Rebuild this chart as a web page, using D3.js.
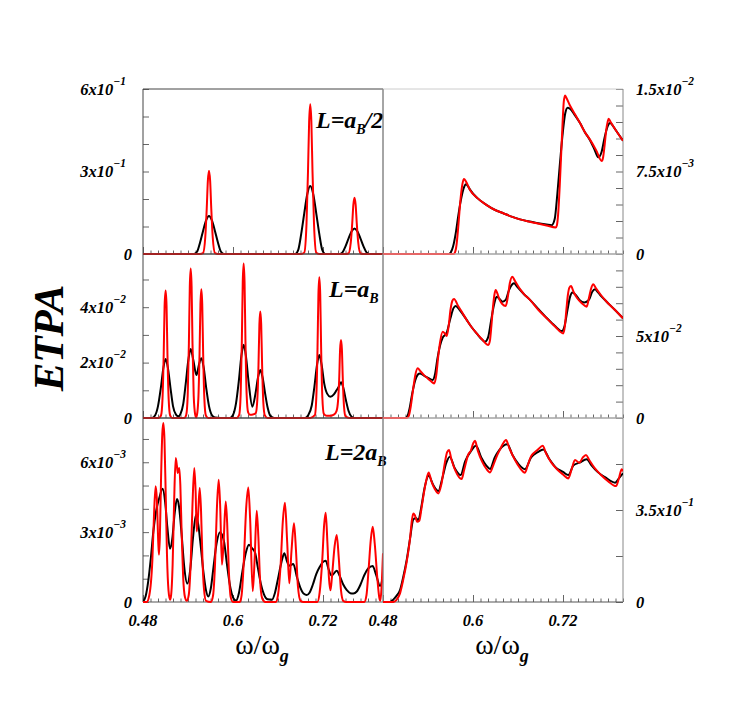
<!DOCTYPE html>
<html>
<head>
<meta charset="utf-8">
<script src="https://cdn.jsdelivr.net/npm/d3@7"></script>
<style>
body { margin: 0; background: #fff; }
text { font-family: "Liberation Serif", "Times New Roman", serif; }
</style>
</head>
<body>
<div id="vis"></div>
<script>
// x axis (omega / omega_g)
var xDomain = [0.48, 0.80];
var xMajor = [0.48, 0.6, 0.72];
var xMajorLabels = ["0.48", "0.6", "0.72"];

// top left, L = aB/2, values in 1e-1
var tlRed = [[0.480,0],[0.556,0],[0.560,0.03],[0.563,0.6],[0.565,1.67],[0.5665,2.67],[0.568,3.03],[0.5695,2.67],[0.571,1.67],[0.573,0.6],[0.576,0.03],[0.580,0],
  [0.691,0],[0.695,0.05],[0.698,1.1],[0.700,3.0],[0.7015,4.8],[0.703,5.45],[0.7045,4.8],[0.706,3.0],[0.708,1.1],[0.711,0.05],[0.715,0],
  [0.750,0],[0.754,0.02],[0.757,0.41],[0.759,1.13],[0.7605,1.8],[0.762,2.05],[0.7635,1.8],[0.765,1.13],[0.767,0.41],[0.770,0.02],[0.774,0],[0.800,0]];
var tlBlack = [[0.480,0],[0.548,0],[0.552,0.08],[0.556,0.41],[0.560,0.83],[0.564,1.21],[0.568,1.38],[0.572,1.21],[0.576,0.83],[0.580,0.41],[0.584,0.08],[0.588,0],
  [0.683,0],[0.687,0.15],[0.691,0.74],[0.695,1.48],[0.699,2.17],[0.703,2.47],[0.707,2.17],[0.711,1.48],[0.715,0.74],[0.719,0.15],[0.723,0],
  [0.742,0],[0.746,0.06],[0.750,0.28],[0.754,0.56],[0.758,0.82],[0.762,0.93],[0.766,0.82],[0.770,0.56],[0.774,0.28],[0.778,0.06],[0.782,0],[0.800,0]];

// middle left, L = aB, values in 1e-2
var mlRed = [[0.480,0],[0.501,0],[0.504,0.09],[0.506,0.69],[0.5076,2.3],[0.5088,4.05],[0.5102,4.6],[0.5114,4.05],[0.5126,2.3],[0.5142,0.69],[0.5162,0.09],[0.519,0],
  [0.535,0],[0.5376,0.11],[0.5396,0.81],[0.5412,2.7],[0.5424,4.75],[0.5436,5.4],[0.5448,4.75],[0.546,2.7],[0.5476,0.81],[0.5496,0.11],[0.5507,0.02],
  [0.5518,0.09],[0.5538,0.7],[0.5554,2.33],[0.5566,4.1],[0.5578,4.65],[0.559,4.1],[0.5602,2.33],[0.5618,0.7],[0.5638,0.09],[0.567,0],
  [0.605,0],[0.6082,0.11],[0.6102,0.84],[0.6118,2.79],[0.613,4.91],[0.6142,5.58],[0.6154,4.91],[0.6166,2.79],[0.6182,0.84],[0.6202,0.2],[0.6225,0.12],[0.625,0.12],[0.628,0.14],[0.6304,0.18],[0.6324,0.65],[0.634,1.92],[0.6352,3.38],[0.6364,3.84],[0.6376,3.38],[0.6388,1.92],[0.6404,0.58],[0.6424,0.1],[0.646,0],
  [0.703,0],[0.7091,0.1],[0.7111,0.76],[0.7127,2.54],[0.7139,4.47],[0.7151,5.08],[0.7163,4.47],[0.7175,2.54],[0.7191,0.76],[0.7211,0.15],[0.725,0.08],[0.7295,0.08],[0.7345,0.12],[0.738,0.25],[0.740,0.6],[0.7416,1.41],[0.7428,2.48],[0.744,2.82],[0.7452,2.48],[0.7464,1.41],[0.748,0.42],[0.750,0.06],[0.755,0],[0.800,0]];
var mlBlack = [[0.480,0],[0.492,0],[0.496,0.09],[0.500,0.43],[0.5037,1.07],[0.5072,1.81],[0.5102,2.13],[0.5132,1.81],[0.5167,1.07],[0.520,0.43],[0.524,0.12],[0.527,0.06],[0.530,0.15],[0.5336,0.5],[0.537,1.25],[0.5406,2.12],[0.5436,2.49],[0.547,2.1],[0.5513,1.55],[0.5548,1.95],[0.5578,2.16],[0.5608,1.84],[0.5643,1.08],[0.568,0.43],[0.572,0.1],[0.576,0.02],[0.590,0],
  [0.596,0],[0.600,0.11],[0.604,0.53],[0.6077,1.32],[0.6112,2.24],[0.6142,2.64],[0.6172,2.24],[0.621,1.25],[0.6258,0.41],[0.6299,0.87],[0.6334,1.47],[0.6364,1.73],[0.6394,1.47],[0.6429,0.87],[0.6464,0.35],[0.650,0.07],[0.655,0],
  [0.696,0],[0.700,0.09],[0.705,0.45],[0.7086,1.14],[0.7121,1.93],[0.7151,2.27],[0.7181,1.93],[0.7216,1.25],[0.7255,0.88],[0.7298,0.77],[0.7345,0.85],[0.738,1.0],[0.741,1.13],[0.744,1.29],[0.747,1.1],[0.7505,0.65],[0.754,0.26],[0.758,0.05],[0.762,0],[0.800,0]];

// bottom left, L = 2aB, values in 1e-3
var blRed = [[0.480,0],[0.4849,0],[0.4885,0.3],[0.4925,1.8],[0.495,4.0],[0.4969,4.97],[0.4985,4.4],[0.5003,2.6],[0.5013,2.03],[0.5025,2.8],[0.504,5.2],[0.5057,7.2],[0.5071,7.68],[0.5086,7.0],[0.5103,4.6],[0.512,2.0],[0.514,0.5],[0.516,0.1],
  [0.5175,0.3],[0.5195,1.6],[0.5215,4.3],[0.5236,6.18],[0.5252,5.85],[0.5263,5.54],[0.5275,5.7],[0.5284,5.75],[0.5298,5.0],[0.5315,3.0],[0.5335,1.1],[0.536,0.2],[0.5383,0.05],
  [0.541,0.3],[0.5435,1.6],[0.546,4.2],[0.5484,5.75],[0.5502,4.7],[0.5516,3.03],[0.5532,3.6],[0.5556,4.89],[0.5573,4.0],[0.5592,1.9],[0.5612,0.6],[0.564,0.05],[0.5705,0],
  [0.5735,0.3],[0.576,1.6],[0.5785,4.0],[0.5809,5.25],[0.5828,4.2],[0.5853,1.6],[0.5875,2.6],[0.5903,4.32],[0.5922,3.4],[0.5945,1.3],[0.597,0.2],[0.600,0],[0.609,0],
  [0.6115,0.3],[0.6145,1.8],[0.6175,4.0],[0.6204,4.92],[0.6228,3.6],[0.6263,0.46],[0.6288,1.8],[0.6316,3.92],[0.6338,2.8],[0.636,1.0],[0.639,0.15],[0.643,0],[0.657,0],
  [0.660,0.3],[0.6635,1.6],[0.6665,3.5],[0.6693,4.26],[0.6722,2.6],[0.6751,0.8],[0.678,2.2],[0.6813,3.38],[0.684,2.2],[0.6865,0.7],[0.690,0.05],[0.694,0],[0.7125,0],
  [0.7155,0.4],[0.719,1.8],[0.7215,3.3],[0.7236,3.83],[0.7258,2.6],[0.728,1.0],[0.7300,0.5],[0.732,1.1],[0.7355,2.4],[0.7383,2.88],[0.741,1.9],[0.744,0.5],[0.747,0.05],[0.751,0],[0.775,0],
  [0.778,0.3],[0.7808,1.4],[0.7838,2.7],[0.7863,3.23],[0.789,2.5],[0.7925,1.0],[0.795,0.2],[0.7965,0.05],[0.798,0.6],[0.800,2.09]];
var blBlack = [[0.480,0.02],[0.4835,0.25],[0.487,0.9],[0.4905,1.9],[0.4938,3.03],[0.4975,3.9],[0.502,4.5],[0.5062,4.86],[0.5095,4.3],[0.5125,3.2],[0.516,2.29],[0.519,2.7],[0.5222,3.8],[0.5253,4.42],[0.528,4.1],[0.5315,2.9],[0.535,1.5],[0.5391,0.79],
  [0.543,1.4],[0.5465,2.7],[0.5507,3.75],[0.5537,3.32],[0.557,2.4],[0.5605,1.3],[0.564,0.5],[0.5671,0.24],[0.5705,0.6],[0.574,1.5],[0.578,2.5],[0.5827,3.0],[0.588,2.6],[0.592,1.6],[0.596,0.7],[0.600,0.2],[0.604,0.06],
  [0.608,0.4],[0.6125,1.3],[0.617,2.1],[0.6213,2.46],[0.6255,2.3],[0.6293,2.13],[0.633,1.5],[0.637,0.8],[0.641,0.35],[0.646,0.12],[0.652,0.1],[0.656,0.4],[0.660,1.0],[0.6645,1.7],[0.6684,2.09],[0.6725,1.7],[0.6751,1.56],[0.6804,1.63],[0.685,1.1],[0.690,0.6],[0.6945,0.35],[0.6983,0.3],
  [0.702,0.4],[0.7065,0.75],[0.711,1.2],[0.7155,1.5],[0.7195,1.7],[0.7236,1.77],[0.7275,1.4],[0.7313,1.13],[0.7383,1.34],[0.7425,1.1],[0.747,0.75],[0.752,0.5],[0.7564,0.38],[0.7604,0.37],[0.765,0.45],[0.770,0.75],[0.775,1.15],[0.7805,1.45],[0.7862,1.55],[0.7905,1.2],[0.796,0.69],[0.800,1.1]];

// top right, values in 1e-3
var trRed = [[0.480,0],[0.574,0],[0.576,0.15],[0.578,0.8],[0.580,2.2],[0.582,3.9],[0.584,5.4],[0.586,6.4],[0.588,6.82],[0.5905,6.6],[0.596,5.82],[0.6055,5.1],[0.6183,4.45],[0.6295,4.0],[0.6404,3.7],[0.6515,3.4],[0.6627,3.15],[0.6738,2.95],[0.6849,2.79],[0.698,2.6],[0.7103,2.42],
  [0.7118,2.6],[0.7135,3.6],[0.7155,6.0],[0.7175,9.0],[0.7195,12.0],[0.721,13.8],[0.7227,14.4],[0.7245,14.2],[0.7293,13.5],[0.736,12.7],[0.7427,11.9],[0.749,11.1],[0.756,10.4],[0.7645,9.4],[0.7716,8.45],
  [0.7735,8.8],[0.7755,9.9],[0.7775,11.2],[0.7795,12.0],[0.7809,12.3],[0.7835,12.0],[0.790,11.3],[0.800,10.3]];
var trBlack = [[0.480,0],[0.568,0],[0.5705,0.15],[0.5735,0.7],[0.577,1.9],[0.580,3.3],[0.583,4.6],[0.586,5.6],[0.5885,6.15],[0.5903,6.33],[0.593,6.2],[0.596,5.85],[0.6055,5.1],[0.6183,4.45],[0.6295,4.0],[0.6404,3.7],[0.6515,3.4],[0.6627,3.15],[0.6738,2.97],[0.6849,2.82],[0.698,2.68],[0.7049,2.62],
  [0.709,3.2],[0.7125,5.5],[0.716,8.3],[0.7195,10.9],[0.723,12.8],[0.7262,13.3],[0.7293,13.2],[0.736,12.6],[0.7427,11.9],[0.749,11.1],[0.756,10.35],[0.762,9.5],[0.767,8.79],
  [0.7715,9.3],[0.7755,10.6],[0.7795,11.6],[0.7827,11.9],[0.786,11.7],[0.790,11.3],[0.800,10.3]];

// middle right, values in 1e-2
var mrRed = [[0.480,0],[0.512,0],[0.5145,0.15],[0.517,0.7],[0.520,1.7],[0.523,2.6],[0.5262,3.03],[0.530,2.85],[0.535,2.6],[0.540,2.4],[0.545,2.2],[0.5484,2.11],[0.551,2.6],[0.5535,3.7],[0.556,4.6],[0.5596,5.26],[0.5625,5.15],[0.5649,5.0],[0.5675,5.6],[0.570,6.6],[0.5725,7.15],[0.5747,7.26],
  [0.580,6.85],[0.586,6.4],[0.5916,5.98],[0.598,5.55],[0.6049,5.16],[0.612,4.8],[0.6204,4.45],[0.6225,4.7],[0.6245,5.6],[0.6265,6.7],[0.6285,7.5],[0.6302,7.8],[0.632,7.65],[0.6355,7.2],[0.639,6.95],[0.6436,6.83],[0.6465,7.4],[0.649,8.2],[0.6524,8.62],
  [0.656,8.35],[0.662,7.9],[0.668,7.55],[0.676,7.2],[0.687,6.6],[0.6983,6.08],[0.709,5.6],[0.7204,5.16],[0.7225,5.6],[0.7245,6.6],[0.7265,7.5],[0.7285,7.95],[0.7307,8.05],[0.734,7.7],[0.739,7.3],[0.745,7.0],[0.7516,6.79],[0.7545,7.3],[0.7575,7.9],[0.7604,8.15],
  [0.764,7.9],[0.7705,7.5],[0.7782,7.09],[0.789,6.6],[0.800,6.08]];
var mrBlack = [[0.480,0],[0.510,0],[0.5125,0.1],[0.5155,0.6],[0.519,1.5],[0.523,2.3],[0.5265,2.65],[0.5293,2.72],[0.534,2.6],[0.540,2.45],[0.5462,2.32],[0.5495,2.7],[0.5525,3.6],[0.556,4.4],[0.5596,4.9],[0.5649,5.2],[0.570,6.1],[0.574,6.7],[0.5769,6.83],
  [0.582,6.6],[0.5916,5.98],[0.598,5.55],[0.6049,5.16],[0.612,4.78],[0.616,4.65],[0.620,4.9],[0.624,5.9],[0.628,6.9],[0.6316,7.4],[0.6355,7.25],[0.6395,7.09],[0.6436,7.2],[0.648,7.8],[0.6524,8.15],[0.6547,8.21],
  [0.659,8.0],[0.668,7.55],[0.676,7.2],[0.687,6.65],[0.6983,6.1],[0.709,5.62],[0.7182,5.3],[0.722,5.6],[0.726,6.6],[0.7295,7.4],[0.7324,7.66],[0.737,7.5],[0.742,7.2],[0.7485,7.05],[0.7545,7.2],[0.759,7.7],[0.7627,7.85],
  [0.766,7.7],[0.7705,7.45],[0.7782,7.09],[0.789,6.6],[0.800,6.08]];

// bottom right, values in 1e-1
var brRed = [[0.480,0],[0.494,0],[0.498,0.08],[0.5027,0.33],[0.507,0.85],[0.5116,1.53],[0.516,2.4],[0.5185,3.1],[0.5204,3.37],[0.5225,3.3],[0.5255,3.05],[0.5284,3.09],[0.531,3.5],[0.5337,4.0],[0.5375,4.6],[0.5409,4.93],[0.5445,4.6],[0.549,4.3],[0.5538,4.13],
  [0.558,4.5],[0.5625,5.3],[0.5655,5.7],[0.568,5.78],[0.571,5.45],[0.5765,5.0],[0.5849,4.68],[0.588,5.0],[0.5938,5.62],[0.597,5.75],[0.6005,6.05],[0.6027,6.13],[0.6065,5.75],[0.612,5.35],[0.6175,5.08],[0.6227,4.93],
  [0.627,5.2],[0.6325,5.6],[0.6351,5.75],[0.6395,6.0],[0.644,6.16],[0.6485,5.85],[0.656,5.4],[0.6625,5.1],[0.6693,4.92],[0.673,5.2],[0.6775,5.55],[0.6804,5.65],[0.6865,5.8],[0.6929,5.94],[0.6975,5.65],[0.7045,5.3],[0.712,5.05],[0.72,4.85],[0.7271,4.7],
  [0.7315,5.05],[0.736,5.4],[0.7418,5.3],[0.7465,5.5],[0.7507,5.59],[0.755,5.4],[0.762,5.1],[0.770,4.85],[0.780,4.6],[0.7907,4.41],[0.7945,4.7],[0.7982,5.05],[0.800,4.97]];
var brBlack = [[0.480,0],[0.489,0],[0.494,0.1],[0.4985,0.25],[0.5027,0.45],[0.507,0.95],[0.5116,1.6],[0.516,2.4],[0.5204,3.14],[0.524,3.2],[0.527,3.1],[0.531,3.6],[0.5355,4.35],[0.5409,4.8],[0.547,4.45],[0.5538,4.22],
  [0.559,4.7],[0.5645,5.3],[0.569,5.53],[0.5755,5.1],[0.5836,4.83],[0.5895,5.35],[0.5975,5.75],[0.604,5.94],[0.611,5.5],[0.6175,5.2],[0.6227,5.06],[0.629,5.5],[0.6355,5.8],[0.6458,6.0],[0.6525,5.6],[0.6605,5.25],[0.6693,5.05],
  [0.6775,5.5],[0.6865,5.7],[0.6938,5.8],[0.7015,5.45],[0.711,5.1],[0.72,4.95],[0.7271,4.83],[0.734,5.2],[0.7418,5.3],[0.7516,5.43],[0.758,5.2],[0.766,4.95],[0.776,4.75],[0.7895,4.54],[0.7945,4.7],[0.800,4.9]];

// y ticks and labels per panel: [value, mantissa text, exponent]
var tlTicks = [0,1,2,3,4,5,6];
var tlLabels = [[0,"0",""],[3,"3x10","−1"],[6,"6x10","−1"]];
var mlTicks = [0,1,2,3,4,5];
var mlLabels = [[0,"0",""],[2,"2x10","−2"],[4,"4x10","−2"]];
var blTicks = [0,1,2,3,4,5,6,7];
var blLabels = [[0,"0",""],[3,"3x10","−3"],[6,"6x10","−3"]];
var trTicks = [0,1.5,3,4.5,6,7.5,9,10.5,12,13.5,15];
var trLabels = [[0,"0",""],[7.5,"7.5x10","−3"],[15,"1.5x10","−2"]];
var mrTicks = [0,1,2,3,4,5,6,7,8,9,10];
var mrLabels = [[0,"0",""],[5,"5x10","−2"]];
var brTicks = [0,1.75,3.5,5.25,7];
var brLabels = [[0,"0",""],[3.5,"3.5x10","−1"]];

var panelTags = [["L=a","B","/2"],["L=a","B",""],["L=2a","B",""]];

var W = 736, H = 708;
var colX = [143, 383], colW = 240;
var rowY = [89, 254, 418], rowH = [165, 164, 184];

var panels = [
  {row:0, col:0, ymax:6,    red:tlRed, black:tlBlack, ticks:tlTicks, labels:tlLabels},
  {row:1, col:0, ymax:5.92, red:mlRed, black:mlBlack, ticks:mlTicks, labels:mlLabels},
  {row:2, col:0, ymax:7.9,  red:blRed, black:blBlack, ticks:blTicks, labels:blLabels},
  {row:0, col:1, ymax:15,   red:trRed, black:trBlack, ticks:trTicks, labels:trLabels},
  {row:1, col:1, ymax:10,   red:mrRed, black:mrBlack, ticks:mrTicks, labels:mrLabels},
  {row:2, col:1, ymax:7,    red:brRed, black:brBlack, ticks:brTicks, labels:brLabels}
];

var svg = d3.select("#vis").append("svg")
  .attr("width", W)
  .attr("height", H);

svg.append("rect").attr("width", W).attr("height", H).attr("fill", "#fff");

var defs = svg.append("defs");

panels.forEach(function(p, i){
  var x0 = colX[p.col], y0 = rowY[p.row], h = rowH[p.row];
  var x = d3.scaleLinear().domain(xDomain).range([x0, x0 + colW]);
  var y = d3.scaleLinear().domain([0, p.ymax]).range([y0 + h, y0]);
  var g = svg.append("g");

  defs.append("clipPath").attr("id", "clip" + i)
    .append("rect").attr("x", x0).attr("y", y0 - 1).attr("width", colW).attr("height", h + 2);

  // bottom ticks, minor then major
  g.append("g")
    .attr("transform", "translate(0," + (y0 + h) + ")")
    .call(d3.axisBottom(x).ticks(32).tickSize(-3.5).tickFormat(""))
    .call(function(a){ a.select(".domain").remove(); a.selectAll("line").attr("stroke", "#666"); });
  g.append("g")
    .attr("transform", "translate(0," + (y0 + h) + ")")
    .call(d3.axisBottom(x).tickValues(xMajor).tickSize(-7).tickFormat(""))
    .call(function(a){ a.select(".domain").remove(); a.selectAll("line").attr("stroke", "#666"); });

  // y ticks on outer side
  var yAxis = p.col == 0 ? d3.axisLeft(y).tickSize(-6) : d3.axisRight(y).tickSize(-7);
  g.append("g")
    .attr("transform", "translate(" + (p.col == 0 ? x0 : x0 + colW) + ",0)")
    .call(yAxis.tickValues(p.ticks).tickFormat(""))
    .call(function(a){ a.select(".domain").remove(); a.selectAll("line").attr("stroke", "#666"); });

  // frame
  g.append("line").attr("x1", x0).attr("x2", x0 + colW).attr("y1", y0 + h).attr("y2", y0 + h).attr("stroke", "#555");
  g.append("line").attr("x1", x0).attr("x2", x0 + colW).attr("y1", y0).attr("y2", y0)
    .attr("stroke", p.col == 0 ? "#444" : "#ccc");
  g.append("line").attr("x1", x0).attr("x2", x0).attr("y1", y0).attr("y2", y0 + h)
    .attr("stroke", p.col == 0 ? "#444" : "#888");
  g.append("line").attr("x1", x0 + colW).attr("x2", x0 + colW).attr("y1", y0).attr("y2", y0 + h)
    .attr("stroke", "#888");

  var line = d3.line()
    .x(function(d){ return x(d[0]); })
    .y(function(d){ return y(d[1]); })
    .curve(d3.curveMonotoneX);

  var curves = g.append("g").attr("clip-path", "url(#clip" + i + ")");
  curves.append("path").datum(p.black).attr("d", line)
    .attr("fill", "none").attr("stroke", "#000").attr("stroke-width", 2);
  curves.append("path").datum(p.red).attr("d", line)
    .attr("fill", "none").attr("stroke", "#ff0000").attr("stroke-width", 2);

  // y labels
  p.labels.forEach(function(l){
    var t = svg.append("text")
      .attr("y", y(l[0]) + 5.5)
      .attr("font-size", 16.5)
      .attr("font-weight", "bold")
      .attr("font-style", "italic")
      .attr("fill", "#000");
    if (p.col == 0) {
      t.attr("x", l[2] ? 126 : 132).attr("text-anchor", "end");
    } else {
      t.attr("x", 636).attr("text-anchor", "start");
    }
    t.append("tspan").text(l[1]);
    if (l[2]) t.append("tspan").attr("dy", -10).attr("font-size", 11.5).text(l[2]);
  });

  // panel tag (L=...)
  if (p.col == 0) {
    var tag = panelTags[p.row];
    var tagPos = [[316, 128], [329, 297], [325, 460]][p.row];
    var tt = svg.append("text")
      .attr("x", tagPos[0]).attr("y", tagPos[1])
      .attr("font-size", 24).attr("font-weight", "bold").attr("font-style", "italic");
    tt.append("tspan").text(tag[0]);
    tt.append("tspan").attr("dy", 6).attr("font-size", 14).text(tag[1]);
    if (tag[2]) tt.append("tspan").attr("dy", -6).attr("dx", -1).text(tag[2]);
  }

  // x labels under bottom row
  if (p.row == 2) {
    xMajor.forEach(function(v, j){
      if (p.col == 1 && j == 0) return;
      svg.append("text")
        .attr("x", x(v)).attr("y", 626)
        .attr("text-anchor", "middle")
        .attr("font-size", 16.5).attr("font-weight", "bold").attr("font-style", "italic")
        .text(xMajorLabels[j]);
    });
    if (p.col == 0) {
      svg.append("text")
        .attr("x", x(0.48) + colW).attr("y", 626)
        .attr("text-anchor", "middle")
        .attr("font-size", 16.5).attr("font-weight", "bold").attr("font-style", "italic")
        .text(xMajorLabels[0]);
    }
    var xt = svg.append("text")
      .attr("x", x0 + colW / 2 - 1).attr("y", 654)
      .attr("text-anchor", "middle")
      .attr("font-size", 28);
    xt.append("tspan").text("ω/ω");
    xt.append("tspan").attr("dy", 8).attr("font-size", 18)
      .attr("font-style", "italic").attr("font-weight", "bold").text("g");
  }
});

svg.append("text")
  .attr("transform", "translate(63,338) rotate(-90)")
  .attr("text-anchor", "middle")
  .attr("font-size", 43)
  .attr("font-weight", "bold")
  .attr("font-style", "italic")
  .text("ETPA");
</script>
</body>
</html>
